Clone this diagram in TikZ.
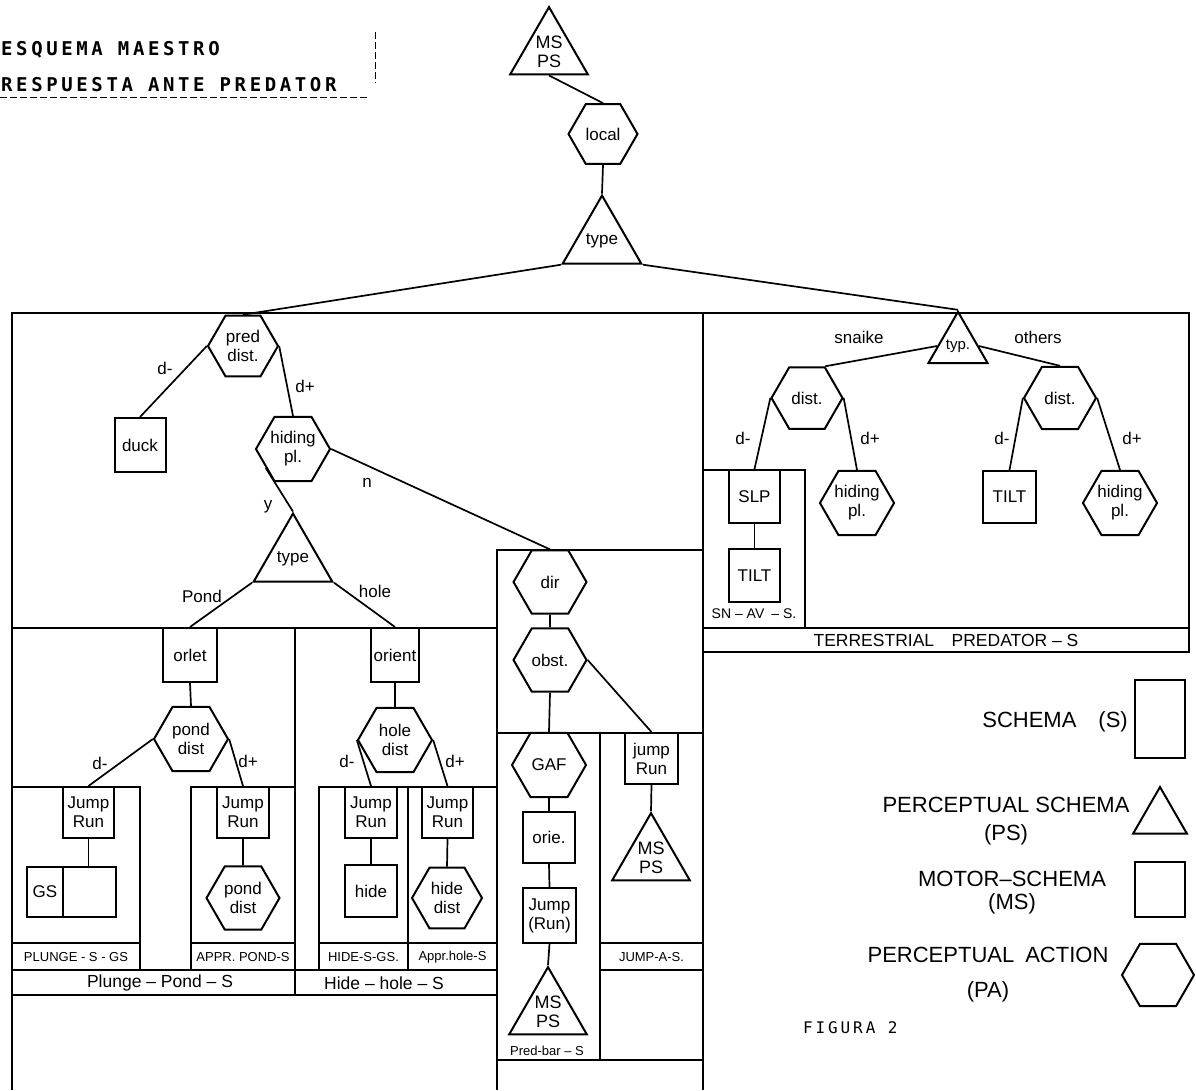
\documentclass[tikz,border=0pt]{standalone}
\usepackage{fontspec}
\setmainfont{Liberation Sans}
\newfontfamily\dotfont[LetterSpace=19]{DejaVu Sans Mono}
\newfontfamily\figfont[LetterSpace=18]{DejaVu Sans Mono}
\usetikzlibrary{shapes.geometric, calc}

\tikzset{
  every node/.style={font=\fontsize{17}{19}\selectfont},
  frame/.style={line width=2pt},
  conn/.style={line width=1.7pt},
  schema/.style={draw, line width=2pt, inner sep=1pt, align=center},
  hexa/.style={draw, line width=2pt, regular polygon, regular polygon sides=6, inner sep=0pt, align=center},
  tri/.style={draw, line width=2pt, regular polygon, regular polygon sides=3, inner sep=0pt, align=center},
  band/.style={font=\fontsize{13}{15}\selectfont, inner sep=0pt},
  bigband/.style={font=\fontsize{17.5}{19}\selectfont, inner sep=0pt},
  legend/.style={font=\fontsize{22}{28}\selectfont, align=center, inner sep=0pt},
}

\begin{document}
\begin{tikzpicture}[x=1pt, y=-1pt]
    \useasboundingbox (0,0) rectangle (1196,1090);

    % title
    \node[anchor=west, inner sep=0pt, font=\dotfont\bfseries\fontsize{19}{21}\selectfont] (tit1) at (1,50) {ESQUEMA MAESTRO};
    \node[anchor=west, inner sep=0pt, font=\dotfont\bfseries\fontsize{19}{21}\selectfont] (tit2) at (1,85) {RESPUESTA ANTE PREDATOR};
    \draw[dash pattern=on 7pt off 3pt, line width=0.9pt] (0,97) -- (367,97);
    \draw[dash pattern=on 7pt off 3pt, line width=0.9pt] (375,32) -- (375,83);

    % frames
    \draw[frame] (12,1090) -- (12,313) -- (1189,313) -- (1189,652) -- (703,652);
    \draw[frame] (703,313) -- (703,1090);
    \draw[frame] (703,628) -- (1189,628);
    \draw[frame] (703,470) -- (805,470) -- (805,628);
    \draw[frame] (497,1090) -- (497,550) -- (703,550);
    \draw[frame] (497,733) -- (703,733);
    \draw[frame] (600,733) -- (600,1060);
    \draw[frame] (600,943) -- (703,943);
    \draw[frame] (600,970) -- (703,970);
    \draw[frame] (497,1060) -- (703,1060);
    \draw[frame] (12,628) -- (497,628);
    \draw[frame] (295,628) -- (295,995);
    \draw[frame] (12,970) -- (497,970);
    \draw[frame] (12,995) -- (497,995);
    \draw[frame] (12,787) -- (140,787) -- (140,970);
    \draw[frame] (12,943) -- (140,943);
    \draw[frame] (191,970) -- (191,787) -- (295,787);
    \draw[frame] (191,943) -- (295,943);
    \draw[frame] (319,970) -- (319,787) -- (497,787);
    \draw[frame] (408,787) -- (408,970);
    \draw[frame] (319,943) -- (497,943);

    % top of the tree
    \node[tri, minimum size=88pt, font=\fontsize{18}{19}\selectfont] (ms0) at (549,52) {MS\\PS};
    \node[hexa, minimum size=69pt] (local) at (603,134) {local};
    \node[tri, minimum size=72pt] (type) at (602,241) {type};

    % aerial side
    \node[hexa, minimum size=70pt] (pd) at (243,346) {pred\\dist.};
    \node[schema, minimum width=51pt, minimum height=54pt] (duck) at (140,445) {duck};
    \node[hexa, minimum size=70pt] (hp) at (293,449) {hiding\\pl.};
    \node[tri, minimum size=72pt] (t2) at (293,559) {type};
    \node[schema, minimum width=54pt, minimum height=54pt] (orlet) at (190,655) {orlet};
    \node[schema, minimum width=48pt, minimum height=54pt] (orient) at (395,655) {orient};
    \node[hexa, minimum size=74pt] (pdist) at (191,739) {pond\\dist};
    \node[hexa, minimum size=74pt] (hd) at (395,740) {hole\\dist};
    \node[schema, minimum width=51pt, minimum height=51pt] (jr1) at (88.5,812.5) {Jump\\Run};
    \node[schema, minimum width=52pt, minimum height=51pt] (jr2) at (243,812.5) {Jump\\Run};
    \node[schema, minimum width=52pt, minimum height=51pt] (jr3) at (371,812.5) {Jump\\Run};
    \node[schema, minimum width=51pt, minimum height=51pt] (jr4) at (447.5,812.5) {Jump\\Run};
    \node[schema, minimum width=36pt, minimum height=50pt] (gs) at (45,892) {GS};
    \node[schema, minimum width=53pt, minimum height=50pt] (gsb) at (89.5,892) {};
    \node[hexa, minimum size=73pt] (pd2) at (243,898) {pond\\dist};
    \node[schema, minimum width=52pt, minimum height=52pt] (hide) at (371,891) {hide};
    \node[hexa, minimum size=70pt] (hdd) at (447,898) {hide\\dist};

    % middle column
    \node[hexa, minimum size=73pt] (dir) at (550,582) {dir};
    \node[hexa, minimum size=73pt] (obst) at (550,660) {obst.};
    \node[hexa, minimum size=74pt] (gaf) at (549,765) {GAF};
    \node[schema, minimum width=53pt, minimum height=51pt] (jr5) at (651.5,758.5) {jump\\Run};
    \node[schema, minimum width=52pt, minimum height=51pt] (orie) at (549,837.5) {orie.};
    \node[schema, minimum width=53pt, minimum height=55pt] (jrun) at (549.5,915.5) {Jump\\(Run)};
    \node[tri, minimum size=88pt, font=\fontsize{18}{19}\selectfont] (ms2) at (548,1012) {MS\\PS};
    \node[tri, minimum size=88pt, font=\fontsize{18}{19}\selectfont] (ms3) at (651,858) {MS\\PS};

    % terrestrial side
    \node[tri, minimum size=62pt, font=\fontsize{15}{17}\selectfont] (typ) at (958,346) {typ.};
    \node[hexa, minimum size=71pt] (dist1) at (807,398) {dist.};
    \node[hexa, minimum size=72pt] (dist2) at (1060,398) {dist.};
    \node[schema, minimum width=51pt, minimum height=53pt] (slp) at (754.5,496.5) {SLP};
    \node[schema, minimum width=51pt, minimum height=53pt] (tilt1) at (754.5,575.5) {TILT};
    \node[hexa, minimum size=70pt] (hp2) at (857,503) {hiding\\pl.};
    \node[schema, minimum width=53pt, minimum height=52pt] (tilt2) at (1009.5,497) {TILT};
    \node[hexa, minimum size=71pt] (hp3) at (1120,503) {hiding\\pl.};

    % connectors
    \draw[conn] (ms0.south) -- (local.north);
    \draw[conn] (local.south) -- (type.north);
    \draw[conn] (type.210) -- (pd.north);
    \draw[conn] (type.330) -- (typ.north);
    \draw[conn] (pd.west) -- (duck.north);
    \draw[conn] (pd.east) -- (hp.north);
    \draw[conn] (hp.east) -- (dir.north);
    \draw[conn] (hp.215) -- (t2.north);
    \draw[conn] (t2.210) -- (orlet.north);
    \draw[conn] (t2.330) -- (orient.north);
    \draw[conn] (orlet.south) -- (pdist.north);
    \draw[conn] (pdist.west) -- (jr1.north);
    \draw[conn] (pdist.east) -- (jr2.north);
    \draw[conn] (jr1.south) -- (jr1.south |- gsb.north);
    \draw[conn] (jr2.south) -- (pd2.north);
    \draw[conn] (orient.south) -- (hd.north);
    \draw[conn] (hd.west) -- (jr3.north);
    \draw[conn] (hd.east) -- (jr4.north);
    \draw[conn] (jr3.south) -- (hide.north);
    \draw[conn] (jr4.south) -- (hdd.north);
    \draw[conn] (dir.south) -- (obst.north);
    \draw[conn] (obst.south) -- (gaf.north);
    \draw[conn] (obst.east) -- (jr5.north);
    \draw[conn] (gaf.south) -- (orie.north);
    \draw[conn] (orie.south) -- (jrun.north);
    \draw[conn] (jrun.south) -- (ms2.north);
    \draw[conn] (jr5.south) -- (ms3.north);
    \draw[conn] (typ.west) -- (dist1.60);
    \draw[conn] (typ.east) -- (dist2.north);
    \draw[conn] (dist1.west) -- (slp.north);
    \draw[conn] (dist1.east) -- (hp2.north);
    \draw[conn] (slp.south) -- (tilt1.north);
    \draw[conn] (dist2.west) -- (tilt2.north);
    \draw[conn] (dist2.east) -- (hp3.north);

    % branch labels
    \node (lpd1) at (165,368) {d-};
    \node (lpd2) at (305,386) {d+};
    \node (lhn) at (367,483) {n};
    \node (lhy) at (268,507) {y};
    \node (lpond) at (202,596) {Pond};
    \node (lhole) at (375,591) {hole};
    \node (lpo1) at (100,763) {d-};
    \node (lpo2) at (248,761) {d+};
    \node (lho1) at (347,761) {d-};
    \node (lho2) at (455,761) {d+};
    \node (lsn) at (859,337) {snaike};
    \node (lot) at (1038,337) {others};
    \node (ld1) at (743,438) {d-};
    \node (ld2) at (870,438) {d+};
    \node (ld3) at (1002,438) {d-};
    \node (ld4) at (1132,438) {d+};

    % schema names
    \node[band] (bplunge) at (76,957) {PLUNGE - S - GS};
    \node[band] (bappr) at (243,957) {APPR. POND-S};
    \node[band] (bhide) at (363.5,957) {HIDE-S-GS.};
    \node[band] (bapprh) at (452.5,957) {Appr.hole-S};
    \node[band] (bjump) at (651.5,957) {JUMP-A-S.};
    \node[band] (bpred) at (547,1051) {Pred-bar – S};
    \node[band, font=\fontsize{14}{16}\selectfont] (bsnav) at (754,614) {SN – AV\enspace – S.};
    \node[bigband] (bpp) at (160,983) {Plunge – Pond – S};
    \node[bigband] (bhh) at (384,983) {Hide – hole – S};
    \node[bigband] (bterr) at (946,640) {TERRESTRIAL\quad PREDATOR – S};

    % legend
    \node[legend, anchor=east] (lgs) at (1128,722) {SCHEMA\quad(S)};
    \node[schema, minimum width=50pt, minimum height=78pt] (ls) at (1160,719) {};
    \node[legend] (lgps) at (1006,821) {PERCEPTUAL SCHEMA\\(PS)};
    \node[tri, minimum size=62pt] (lt) at (1160,818) {};
    \node[legend] (lgms) at (1012,893) {MOTOR–SCHEMA\\[-5pt](MS)};
    \node[schema, minimum width=50pt, minimum height=55pt] (lm) at (1160,889.5) {};
    \node[legend] (lgpa) at (988,975) {PERCEPTUAL\enspace ACTION\\[7pt](PA)};
    \node[hexa, minimum size=72pt] (lh) at (1158,975) {};
    \node[anchor=west, inner sep=0pt, font=\figfont\fontsize{16}{18}\selectfont] (fig) at (803,1028) {FIGURA 2};
\end{tikzpicture}
\end{document}
